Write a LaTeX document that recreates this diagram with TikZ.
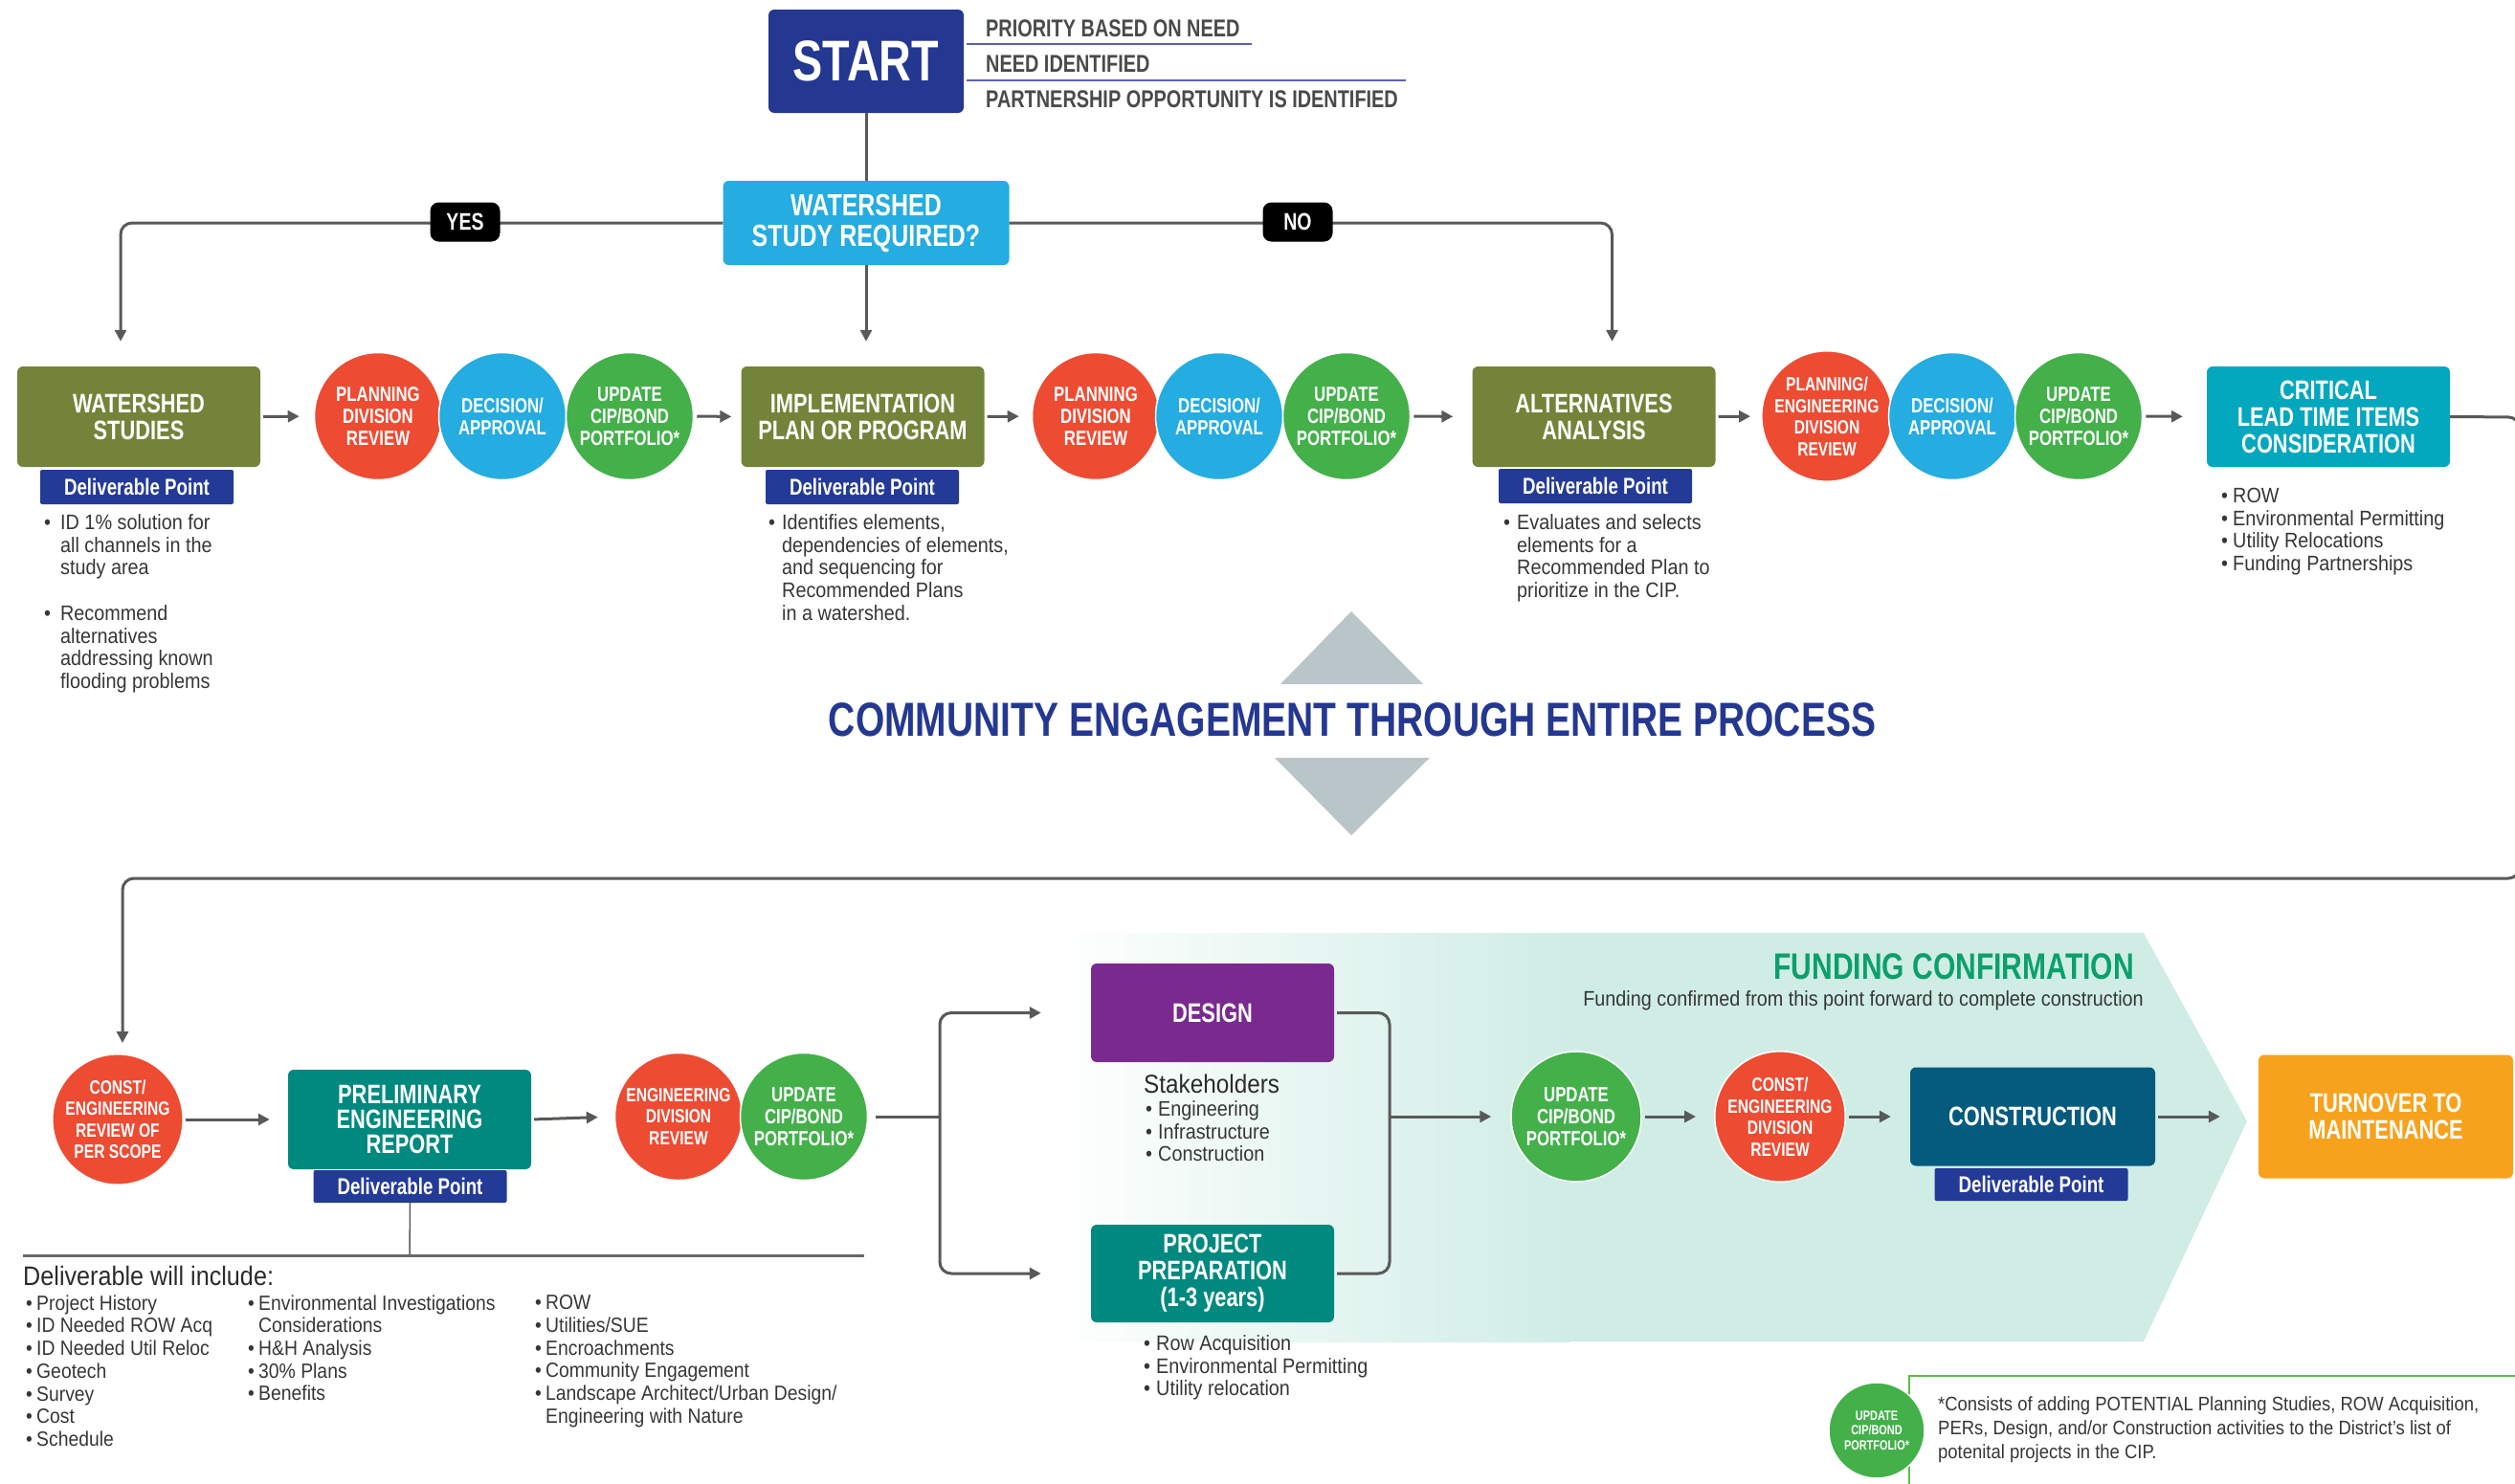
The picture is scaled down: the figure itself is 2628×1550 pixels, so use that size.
\documentclass[tikz,border=0pt]{standalone}
\usepackage{fontspec}
\setmainfont{Liberation Sans}
\newfontfamily\condf[FakeStretch=0.78]{Liberation Sans}
\newfontfamily\bodyf[FakeStretch=0.9]{Liberation Sans}
\usetikzlibrary{arrows.meta,calc}
\definecolor{navyc}{HTML}{243892}
\definecolor{dpblue}{HTML}{243A97}
\definecolor{lblue}{HTML}{25ACE0}
\definecolor{olivec}{HTML}{73843A}
\definecolor{cred}{HTML}{EE4B33}
\definecolor{cgreen}{HTML}{43B04A}
\definecolor{cteal}{HTML}{03A7BE}
\definecolor{teal2}{HTML}{00897F}
\definecolor{cpurple}{HTML}{7A2A8E}
\definecolor{cblue}{HTML}{045B7D}
\definecolor{corange}{HTML}{F7A21D}
\definecolor{mintc}{HTML}{CFEDE5}
\definecolor{fgreen}{HTML}{0C9F6C}
\definecolor{arrgray}{HTML}{595959}
\definecolor{txtgray}{HTML}{363636}
\definecolor{trigray}{HTML}{B9C5C9}
\definecolor{ulblue}{HTML}{5A63B5}
\definecolor{framegreen}{HTML}{5DBB4B}
\newcommand\bulx[1]{\makebox[#1][l]{\textbullet}}
\newcommand\indx[1]{\hspace*{#1}}
\tikzset{
 box/.style={rounded corners=6pt, minimum width=254pt, minimum height=105pt, inner sep=0pt, align=center, text=white, font=\condf\bfseries\fontsize{28}{28}\selectfont},
 circ/.style={circle, minimum size=133pt, inner sep=0pt, align=center, text=white, draw=white, line width=1.5pt, font=\condf\bfseries\fontsize{21.5}{23}\selectfont},
 circs/.style={circ, font=\condf\bfseries\fontsize{20}{22.5}\selectfont},
 dpt/.style={fill=dpblue, minimum width=202pt, minimum height=36pt, inner sep=0pt, text=white, rounded corners=2pt, font=\condf\bfseries\fontsize{24}{24}\selectfont},
 arr/.style={draw=arrgray, line width=3pt, -{Triangle[length=12pt,width=12pt]}},
 conn/.style={draw=arrgray, line width=3pt},
 btxt/.style={anchor=north west, inner sep=0pt, align=left, text=txtgray, execute at begin node={\strut}, font=\bodyf\fontsize{22}{23.7}\selectfont},
 sidet/.style={anchor=base west, inner sep=0pt, text=txtgray!90, font=\condf\bfseries\fontsize{25.5}{25.5}\selectfont},
 yn/.style={fill=black, rounded corners=9pt, minimum width=73pt, minimum height=41pt, inner sep=0pt, text=white, font=\condf\bfseries\fontsize{25}{25}\selectfont},
}
\begin{document}
\begin{tikzpicture}[x=1pt,y=-1pt]
\useasboundingbox (0,0) rectangle (2628,1550);
\clip (0,0) rectangle (2628,1550);
% funding background
\fill[mintc] (1640,975) -- (2240,975) -- (2348,1172) -- (2240,1402) -- (1640,1402) -- cycle;
\shade[left color=white,right color=mintc] (1100,975) rectangle (1641,1402);
% community engagement
\fill[trigray] (1412,639) -- (1487,715) -- (1338,715) -- cycle;
\fill[trigray] (1332,792) -- (1494,792) -- (1412,873) -- cycle;
\node[font=\condf\bfseries\fontsize{50}{50}\selectfont, text=navyc, inner sep=0pt] (ce) at (1413,752) {COMMUNITY ENGAGEMENT THROUGH ENTIRE PROCESS};
% start
\node[box, fill=navyc, minimum width=204pt, minimum height=108pt, font=\condf\bfseries\fontsize{60}{60}\selectfont] (start) at (905,64) {START};
\node[sidet] (s1) at (1030,38) {PRIORITY BASED ON NEED};
\node[sidet] (s2) at (1030,75) {NEED IDENTIFIED};
\node[sidet] (s3) at (1030,112) {PARTNERSHIP OPPORTUNITY IS IDENTIFIED};
\draw[ulblue, line width=2.5pt] (1010,46) -- (1308,46);
\draw[ulblue, line width=2.5pt] (1010,84) -- (1469,84);
\node[box, fill=lblue, minimum width=299pt, minimum height=88pt, font=\condf\bfseries\fontsize{32}{32}\selectfont] (wsr) at (905,233) {WATERSHED\\STUDY REQUIRED?};
% row 1
\node[box, fill=olivec] (ws) at (145,435.5) {WATERSHED\\STUDIES};
\node[dpt] (wsdp) at (143,509) {Deliverable Point};
\node[circ, fill=cred] (r1) at (395,435) {PLANNING\\DIVISION\\REVIEW};
\node[circ, fill=lblue] (d1) at (525,435) {DECISION/\\APPROVAL};
\node[circ, fill=cgreen] (u1) at (658,435) {UPDATE\\CIP/BOND\\PORTFOLIO*};
\node[box, fill=olivec] (impl) at (901.5,435.5) {IMPLEMENTATION\\PLAN OR PROGRAM};
\node[dpt] (impldp) at (901,509) {Deliverable Point};
\node[circ, fill=cred] (r2) at (1145,435) {PLANNING\\DIVISION\\REVIEW};
\node[circ, fill=lblue] (d2) at (1274,435) {DECISION/\\APPROVAL};
\node[circ, fill=cgreen] (u2) at (1407,435) {UPDATE\\CIP/BOND\\PORTFOLIO*};
\node[box, fill=olivec] (alt) at (1665.5,435.5) {ALTERNATIVES\\ANALYSIS};
\node[dpt] (altdp) at (1667,508) {Deliverable Point};
\node[circs, fill=cred] (r3) at (1909,435) {PLANNING/\\ENGINEERING\\DIVISION\\REVIEW};
\node[circ, fill=lblue] (d3) at (2040,435) {DECISION/\\APPROVAL};
\node[circ, fill=cgreen] (u3) at (2172,435) {UPDATE\\CIP/BOND\\PORTFOLIO*};
\node[box, fill=cteal] (crit) at (2433,435.5) {CRITICAL\\LEAD TIME ITEMS\\CONSIDERATION};
% row 1 bullets
\node[btxt] (wsb) at (46,537.4) {\bulx{17pt}ID 1\% solution for\\\indx{17pt}all channels in the\\\indx{17pt}study area\\\mbox{}\\\bulx{17pt}Recommend\\\indx{17pt}alternatives\\\indx{17pt}addressing known\\\indx{17pt}flooding problems};
\node[btxt] (implb) at (803,537.4) {\bulx{14pt}Identifies elements,\\\indx{14pt}dependencies of elements,\\\indx{14pt}and sequencing for\\\indx{14pt}Recommended Plans\\\indx{14pt}in a watershed.};
\node[btxt] (altb) at (1571,537.4) {\bulx{14pt}Evaluates and selects\\\indx{14pt}elements for a\\\indx{14pt}Recommended Plan to\\\indx{14pt}prioritize in the CIP.};
\node[btxt] (critb) at (2321,510) {\bulx{12pt}ROW\\\bulx{12pt}Environmental Permitting\\\bulx{12pt}Utility Relocations\\\bulx{12pt}Funding Partnerships};
% row 2
\node[circs, fill=cred] (cper) at (123,1170) {CONST/\\ENGINEERING\\REVIEW OF\\PER SCOPE};
\node[box, fill=teal2, minimum height=104pt, font=\condf\bfseries\fontsize{28}{26}\selectfont] (per) at (428,1170) {PRELIMINARY\\ENGINEERING\\REPORT};
\node[dpt, minimum height=34pt] (perdp) at (428.5,1240) {Deliverable Point};
\node[circs, fill=cred] (edr) at (709,1167) {ENGINEERING\\DIVISION\\REVIEW};
\node[circ, fill=cgreen] (pu) at (840,1167) {UPDATE\\CIP/BOND\\PORTFOLIO*};
\node[box, fill=cpurple, minimum height=103pt] (design) at (1267,1058.5) {DESIGN};
\node[box, fill=teal2, minimum height=102pt] (prep) at (1267,1331) {PROJECT\\PREPARATION\\(1-3 years)};
\node[circ, fill=cgreen, minimum size=136pt] (fu) at (1647,1167) {UPDATE\\CIP/BOND\\PORTFOLIO*};
\node[circs, fill=cred] (cedr) at (1860,1167) {CONST/\\ENGINEERING\\DIVISION\\REVIEW};
\node[box, fill=cblue, minimum width=256pt, minimum height=103pt] (constr) at (2124,1167) {CONSTRUCTION};
\node[dpt, minimum height=34pt] (cdp) at (2122.5,1238) {Deliverable Point};
\node[box, fill=corange, minimum width=266pt, minimum height=129pt] (turn) at (2493,1167) {TURNOVER TO\\MAINTENANCE};
% funding texts
\node[anchor=base east, inner sep=0pt, text=fgreen, font=\condf\bfseries\fontsize{38.5}{38.5}\selectfont] (fc) at (2230,1023) {FUNDING CONFIRMATION};
\node[anchor=base east, inner sep=0pt, text=txtgray, font=\bodyf\fontsize{22}{22}\selectfont] (fct) at (2240,1051) {Funding confirmed from this point forward to complete construction};
% stakeholders
\node[anchor=base west, inner sep=0pt, text=txtgray!80!black, font=\bodyf\fontsize{27}{27}\selectfont] (stk) at (1195,1142) {Stakeholders};
\node[btxt] (stkb) at (1197,1150.4) {\bulx{13pt}Engineering\\\bulx{13pt}Infrastructure\\\bulx{13pt}Construction};
\node[btxt] (prepb) at (1195,1395.4) {\bulx{13pt}Row Acquisition\\\bulx{13pt}Environmental Permitting\\\bulx{13pt}Utility relocation};
% deliverable will include
\coordinate (dl) at (428,1312);
\draw[arrgray, line width=1.5pt] (perdp.south) -- (dl);
\draw[arrgray!90, line width=3pt] (24,1312) -- (903,1312);
\node[anchor=base west, inner sep=0pt, text=txtgray!80!black, font=\bodyf\fontsize{28}{28}\selectfont] (dwi) at (24,1343) {Deliverable will include:};
\node[btxt, font=\bodyf\fontsize{21.5}{23.7}\selectfont] (c1) at (27,1353.4) {\bulx{11pt}Project History\\\bulx{11pt}ID Needed ROW Acq\\\bulx{11pt}ID Needed Util Reloc\\\bulx{11pt}Geotech\\\bulx{11pt}Survey\\\bulx{11pt}Cost\\\bulx{11pt}Schedule};
\node[btxt, font=\bodyf\fontsize{21.5}{23.7}\selectfont] (c2) at (259,1353.4) {\bulx{11pt}Environmental Investigations\\\indx{11pt}Considerations\\\bulx{11pt}H\&H Analysis\\\bulx{11pt}30\% Plans\\\bulx{11pt}Benefits};
\node[btxt, font=\bodyf\fontsize{21.5}{23.7}\selectfont] (c3) at (559,1353.4) {\bulx{11pt}ROW\\\bulx{11pt}Utilities/SUE\\\bulx{11pt}Encroachments\\\bulx{11pt}Community Engagement\\\bulx{11pt}Landscape Architect/Urban Design/\\\indx{11pt}Engineering with Nature};
% footnote
\draw[framegreen, line width=2pt] (1995,1560) -- (1995,1438) -- (2640,1438);
\node[circle, fill=cgreen, draw=white, line width=1.5pt, minimum size=100pt, inner sep=0pt, align=center, text=white, font=\condf\bfseries\fontsize{14}{15.5}\selectfont] (fnc) at (1961,1495) {UPDATE\\CIP/BOND\\PORTFOLIO*};
\node[btxt, font=\bodyf\fontsize{20.5}{25}\selectfont] (fnt) at (2025,1459.5) {*Consists of adding POTENTIAL Planning Studies, ROW Acquisition,\\PERs, Design, and/or Construction activities to the District’s list of\\potenital projects in the CIP.};
% connectors top
\draw[conn] (start.south) -- (wsr.north);
\draw[arr, shorten >=26pt] (wsr.south) -- (wsr.south |- impl.north);
\draw[arr, rounded corners=12pt, shorten >=26pt] (wsr.west) -| ([xshift=-19pt]ws.north);
\draw[arr, rounded corners=12pt, shorten >=26pt] (wsr.east) -| ([xshift=19pt]alt.north);
\node[yn] (yes) at (486,232) {YES};
\node[yn] (no) at (1356,232) {NO};
% row 1 arrows
\draw[arr, shorten <=3pt, shorten >=15pt] (ws.east) -- (r1.west);
\draw[arr, shorten <=3pt, shorten >=10pt] (u1.east) -- (impl.west);
\draw[arr, shorten <=3pt, shorten >=13pt] (impl.east) -- (r2.west);
\draw[arr, shorten <=3pt, shorten >=20pt] (u2.east) -- (alt.west);
\draw[arr, shorten <=3pt, shorten >=11pt] (alt.east) -- (r3.west);
\draw[arr, shorten <=3pt, shorten >=25pt] (u3.east) -- (crit.west);
% return line
\coordinate (rt1) at (2633,436);
\coordinate (rt2) at (2633,918);
\draw[arr, rounded corners=12pt, shorten >=11pt] (crit.east) -- (rt1) -- (rt2) -| ([xshift=5pt]cper.north);
% row 2 arrows
\draw[arr, shorten <=2pt, shorten >=19pt] (cper.east) -- (per.west);
\draw[arr, shorten <=3pt, shorten >=17pt] (per.east) -- (edr.west);
\coordinate (br) at (982,1167);
\draw[conn, shorten <=8pt] (pu.east) -- (br);
\draw[arr, rounded corners=12pt, shorten >=52pt] (br) |- (design.west);
\draw[arr, rounded corners=12pt, shorten >=52pt] (br) |- (prep.west);
\coordinate (bk) at (1452,1167);
\draw[conn, rounded corners=12pt] ([xshift=3pt]design.east) -| (bk) |- ([xshift=3pt]prep.east);
\draw[arr, shorten >=20pt] (bk) -- (fu.west);
\draw[arr, shorten <=3pt, shorten >=19pt] (fu.east) -- (cedr.west);
\draw[arr, shorten <=3pt, shorten >=20pt] (cedr.east) -- (constr.west);
\draw[arr, shorten <=3pt, shorten >=40pt] (constr.east) -- (turn.west);
\end{tikzpicture}
\end{document}
